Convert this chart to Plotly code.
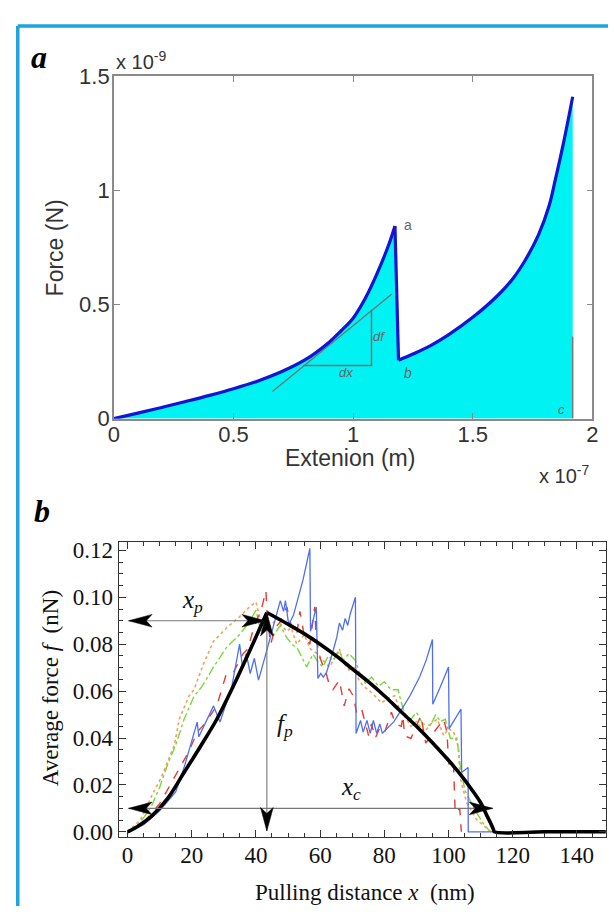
import plotly.graph_objects as go

W, H = 614, 919

# ---------------- Panel a data (extension in 1e-7 m, force in 1e-9 N) ----------------
a_ext_rise = [0, 0.1, 0.2, 0.3, 0.4, 0.5, 0.6, 0.7, 0.8, 0.9, 0.95, 1.0, 1.05, 1.1, 1.15, 1.175]
a_force_rise = [0, 0.024, 0.049, 0.075, 0.102, 0.131, 0.164, 0.205, 0.258, 0.335, 0.385, 0.44, 0.525, 0.635, 0.765, 0.844]
a_ext_second = [1.19, 1.25, 1.324, 1.4, 1.504, 1.6, 1.667, 1.72, 1.775, 1.82, 1.844, 1.88, 1.918]
a_force_second = [0.256, 0.283, 0.320, 0.368, 0.447, 0.535, 0.612, 0.695, 0.805, 0.935, 1.04, 1.21, 1.41]
a_cut_x = [1.918, 1.918]
a_cut_f = [0.0, 0.36]
tangent_x = [0.663, 1.161]
tangent_f = [0.119, 0.545]
tri_x = [0.792, 1.077, 1.077]
tri_f = [0.233, 0.233, 0.477]
a_xticks = [0, 0.5, 1, 1.5, 2]
a_yticks = [0, 0.5, 1, 1.5]

# ---------------- Panel b data (pulling distance nm, average force nN) ----------------
theory_x_rise = [0, 3, 7.4, 12.5, 17.6, 22.7, 27.8, 32.9, 38, 43.4]
theory_f_rise = [0, 0.0022, 0.0066, 0.0143, 0.0253, 0.0364, 0.048, 0.062, 0.077, 0.0935]
theory_x_fall = [43.4, 50, 55, 60, 65, 70, 75, 80, 85, 90, 95, 100, 104, 107, 110, 112, 113.3, 114, 114.3, 130, 150]
theory_f_fall = [0.0935, 0.0885, 0.0845, 0.0800, 0.0750, 0.0695, 0.0640, 0.0580, 0.0515, 0.0450, 0.0380,
                 0.0305, 0.0240, 0.0185, 0.0125, 0.0068, 0.0032, 0.0010, 0.0, 0.0, 0.0]

blue_x = [0, 5, 10, 15, 17.6, 21.7, 22.2, 26.8, 28.8, 32.5, 34.9, 35.8, 37.0, 38.2, 39.5, 40.8, 42.5,
          44.5, 46.5, 47.6, 48.6, 49.2, 50.2, 51.7, 54.7, 56.8, 57.0, 58.8, 59.3, 60.2, 61.0, 62.0,
          64.0, 65.2, 66.0, 67.0, 67.8, 68.6, 69.4, 71.0, 71.2, 72.6, 73.4, 74.6, 75.6, 76.6, 77.6,
          78.6, 79.4, 83.0, 85.3, 88.0, 91.0, 93.0, 95.0, 95.1, 97.5, 100.0, 100.2, 102.0, 103.9,
          104.1, 106.1, 106.15, 114.0]
blue_f = [0, 0.003, 0.009, 0.017, 0.0274, 0.0468, 0.0405, 0.0537, 0.0468, 0.062, 0.080, 0.0703, 0.076,
          0.0675, 0.074, 0.0647, 0.073, 0.083, 0.094, 0.0986, 0.094, 0.0986, 0.0883, 0.0924, 0.1076,
          0.1208, 0.0855, 0.0959, 0.0654, 0.0675, 0.066, 0.068, 0.077, 0.083, 0.089, 0.086, 0.091,
          0.088, 0.093, 0.100, 0.0419, 0.0475, 0.0425, 0.0475, 0.042, 0.0475, 0.042, 0.046, 0.042,
          0.047, 0.052, 0.058, 0.066, 0.073, 0.082, 0.0544, 0.062, 0.0703, 0.044, 0.048, 0.0523,
          0.0253, 0.0274, 0.0, 0.0]

red_x = [0, 5, 10, 15, 19, 21.7, 24, 27.8, 29.8, 30.8, 33, 35.9, 37.5, 39, 42, 43.1, 43.5, 44.6,
         46, 47.6, 49.6, 51, 52.7, 53.7, 55, 56.8, 58.3, 58.8, 60, 61.9, 63, 64, 66, 67.5, 69, 70.3,
         71.5, 73, 75.1, 76, 77.2, 78.5, 80, 82.2, 83.5, 85.3, 85.8, 86.3, 88.3, 91.4, 92.9, 95.5,
         98.5, 99.5, 100.1, 101.5, 102.1, 103.5, 104.0]
red_f = [0, 0.004, 0.012, 0.024, 0.034, 0.0426, 0.046, 0.0537, 0.0634, 0.0675, 0.068, 0.0758, 0.078,
         0.0855, 0.0966, 0.1028, 0.092, 0.080, 0.087, 0.0896, 0.096, 0.088, 0.084, 0.094, 0.084,
         0.080, 0.0959, 0.082, 0.074, 0.0675, 0.062, 0.0606, 0.0647, 0.0537, 0.061, 0.058, 0.050,
         0.052, 0.041, 0.046, 0.040, 0.044, 0.042, 0.051, 0.046, 0.045, 0.0495, 0.041, 0.0398,
         0.0495, 0.0378, 0.0426, 0.048, 0.0426, 0.0288, 0.031, 0.008, 0.010, 0.0]

green_x = [0, 4, 7.4, 10, 12.5, 15, 17.6, 20.7, 23.2, 26.8, 30.8, 34.9, 38, 40, 41.5, 43.5, 45.6,
           47.6, 49.5, 51.2, 53, 54.7, 55.8, 57.8, 59.5, 60.9, 62.5, 64, 66, 67, 69, 71, 72.5, 74.1,
           76, 78.2, 80, 81.2, 82.2, 84.3, 85.3, 86.5, 88.3, 90, 92, 94.4, 96, 97.5, 99, 100.6,
           102.6, 103.6, 105.1, 108.2, 110.7, 113]
green_f = [0, 0.004, 0.0108, 0.019, 0.0288, 0.037, 0.048, 0.0578, 0.062, 0.0703, 0.0786, 0.0841,
           0.0896, 0.0945, 0.0855, 0.088, 0.084, 0.088, 0.083, 0.080, 0.078, 0.073, 0.0703, 0.0758,
           0.072, 0.0703, 0.075, 0.073, 0.078, 0.073, 0.076, 0.073, 0.067, 0.0634, 0.066, 0.062,
           0.064, 0.062, 0.0606, 0.0606, 0.055, 0.050, 0.048, 0.051, 0.046, 0.0454, 0.050, 0.047,
           0.048, 0.0398, 0.040, 0.0288, 0.0177, 0.0094, 0.0039, 0.0]

orange_x = [0, 4, 7.4, 10.5, 14.6, 16.1, 19.1, 20.7, 23.7, 26.8, 30.8, 34.9, 38, 40, 41.5, 44, 46.6,
            48, 49.6, 51, 52.7, 55, 57, 59.3, 61, 62.9, 64.5, 66, 67.5, 69, 70.5, 72.1, 73.5, 75.1,
            77, 79.2, 81, 83.3, 84.8, 86.3, 88.3, 90, 92.4, 94.5, 96.5, 98.5, 100, 101.6, 103.1,
            103.6, 105.7, 108.7, 111.7, 113.2]
orange_f = [0, 0.005, 0.015, 0.0232, 0.037, 0.048, 0.0578, 0.0606, 0.0717, 0.0813, 0.0869, 0.0917,
            0.0959, 0.098, 0.0896, 0.087, 0.091, 0.088, 0.0855, 0.087, 0.080, 0.084, 0.078, 0.0758,
            0.073, 0.0703, 0.074, 0.0772, 0.072, 0.069, 0.070, 0.0647, 0.062, 0.0606, 0.058, 0.055,
            0.057, 0.058, 0.052, 0.0495, 0.045, 0.047, 0.0426, 0.046, 0.048, 0.041, 0.044, 0.0426,
            0.036, 0.0232, 0.0122, 0.0053, 0.0018, 0.0]

# annotation arrows (data coordinates)
xp_arrow_x = [0.3, 43.0]
xp_arrow_f = 0.09
fp_arrow_x = 43.4
fp_arrow_f = [0.0004, 0.0935]
xc_arrow_x = [0.3, 113.8]
xc_arrow_f = 0.01
b_xticks = [0, 20, 40, 60, 80, 100, 120, 140]

# ---------------- layout geometry (picture pixels) ----------------
A_X = [110, 598]
A_Y = [66, 418]
B_X = [115, 611.7]
B_Y = [545, 848.3]
xa_range = [0, 2]
ya_range = [0, 1.5]
xb_range = [-2.75, 149.0]
yb_range = [-0.0023, 0.1235]


def fx(px):
    return px / W


def fy(py):
    return 1 - py / H


SANS = "Liberation Sans, Arial, sans-serif"
SERIF = "Liberation Serif, Times New Roman, serif"

fig = go.Figure()

# ---- panel a ----
fig.add_trace(go.Scatter(x=a_ext_rise + a_ext_second + [a_ext_second[-1], 0],
                         y=a_force_rise + a_force_second + [0, 0],
                         fill="toself", fillcolor="#00F2F2", mode="lines",
                         line=dict(width=0, color="#00F2F2"), hoverinfo="skip"))
fig.add_trace(go.Scatter(x=a_cut_x, y=a_cut_f, mode="lines", line=dict(color="#7a7a7a", width=1.5)))
fig.add_trace(go.Scatter(x=tangent_x, y=tangent_f, mode="lines", line=dict(color="#707070", width=1.2)))
fig.add_trace(go.Scatter(x=tri_x, y=tri_f, mode="lines", line=dict(color="#707070", width=1.5)))
fig.add_trace(go.Scatter(x=a_ext_rise, y=a_force_rise, mode="lines", line_shape="spline",
                         line=dict(color="#1414D2", width=3.2)))
fig.add_trace(go.Scatter(x=[a_ext_rise[-1], a_ext_second[0]], y=[a_force_rise[-1], a_force_second[0]],
                         mode="lines", line=dict(color="#1414D2", width=3.2)))
fig.add_trace(go.Scatter(x=a_ext_second, y=a_force_second, mode="lines", line_shape="spline",
                         line=dict(color="#1414D2", width=3.2)))

# ---- panel b ----
bkw = dict(xaxis="x2", yaxis="y2", mode="lines", hoverinfo="skip")
fig.add_trace(go.Scatter(x=orange_x, y=orange_f, line=dict(color="#F0A060", width=1.6, dash="dot"), **bkw))
fig.add_trace(go.Scatter(x=green_x, y=green_f, line=dict(color="#7CD83A", width=1.4, dash="dashdot"), **bkw))
fig.add_trace(go.Scatter(x=red_x, y=red_f, line=dict(color="#E83A30", width=1.4, dash="dash"), **bkw))
fig.add_trace(go.Scatter(x=blue_x, y=blue_f, line=dict(color="#4F6FF0", width=1.3), **bkw))
fig.add_trace(go.Scatter(x=theory_x_rise, y=theory_f_rise, line=dict(color="black", width=3.6),
                         line_shape="spline", **bkw))
fig.add_trace(go.Scatter(x=theory_x_fall, y=theory_f_fall, line=dict(color="black", width=3.6),
                         line_shape="spline", **bkw))

# arrow shafts
fig.add_trace(go.Scatter(x=xp_arrow_x, y=[xp_arrow_f] * 2, line=dict(color="#777", width=1.1), **bkw))
fig.add_trace(go.Scatter(x=[fp_arrow_x] * 2, y=fp_arrow_f, line=dict(color="#777", width=1.1), **bkw))
fig.add_trace(go.Scatter(x=xc_arrow_x, y=[xc_arrow_f] * 2, line=dict(color="#777", width=1.1), **bkw))

sx = (B_X[1] - B_X[0]) / (xb_range[1] - xb_range[0])
sy = (B_Y[1] - B_Y[0]) / (yb_range[1] - yb_range[0])


def head(tx, ty, dx, dy, L=24.0, Wd=6.5, N=6.0):
    nx, ny = -dy, dx
    pts = [(0, 0), (-L * dx + Wd * nx, -L * dy + Wd * ny), (-(L - N) * dx, -(L - N) * dy),
           (-L * dx - Wd * nx, -L * dy - Wd * ny), (0, 0)]
    return [tx + p[0] / sx for p in pts], [ty + p[1] / sy for p in pts]


heads = [
    (xp_arrow_x[0], xp_arrow_f, -1, 0),
    (xp_arrow_x[1], xp_arrow_f, 1, 0),
    (fp_arrow_x, fp_arrow_f[0], 0, -1),
    (fp_arrow_x, fp_arrow_f[1], 0, 1),
    (xc_arrow_x[0], xc_arrow_f, -1, 0),
    (xc_arrow_x[1], xc_arrow_f, 1, 0),
]
for tx, ty, dx, dy in heads:
    hx, hy = head(tx, ty, dx, dy)
    fig.add_trace(go.Scatter(x=hx, y=hy, fill="toself", fillcolor="black",
                             line=dict(color="black", width=0.5), **bkw))

# ---------------- axes ----------------
a_axis = dict(showline=True, linecolor="#8a8a8a", linewidth=1.5, mirror="ticks", ticks="inside",
              ticklen=6, tickwidth=1.2, tickcolor="#8a8a8a", showgrid=False, zeroline=False,
              tickfont=dict(family=SANS, size=22, color="#333333"))
b_axis = dict(showline=True, linecolor="#333333", linewidth=1.4, mirror="ticks", ticks="inside",
              ticklen=7, tickwidth=1.1, tickcolor="#333333", showgrid=False, zeroline=False,
              tickfont=dict(family=SERIF, size=23, color="#111111"))

fig.update_layout(
    width=W, height=H, autosize=False, margin=dict(l=0, r=0, t=0, b=0),
    paper_bgcolor="white", plot_bgcolor="white", showlegend=False,
    xaxis=dict(domain=[fx(A_X[0]), fx(A_X[1])], range=xa_range, anchor="y", tickvals=a_xticks,
               ticktext=[str(v) for v in a_xticks], ticklabelstandoff=-5, **a_axis),
    yaxis=dict(domain=[fy(A_Y[1]), fy(A_Y[0])], range=ya_range, anchor="x", tickvals=a_yticks,
               ticktext=[str(v) for v in a_yticks], ticklabelstandoff=-2, **a_axis),
    xaxis2=dict(domain=[fx(B_X[0]), fx(B_X[1])], range=xb_range, anchor="y2", tickvals=b_xticks,
                ticklabelstandoff=-3,
                minor=dict(ticks="inside", ticklen=4, dtick=5, tick0=0, tickcolor="#333333"), **b_axis),
    yaxis2=dict(domain=[fy(B_Y[1]), fy(B_Y[0])], range=yb_range, anchor="x2", tick0=0, dtick=0.02,
                tickformat=".2f",
                minor=dict(ticks="inside", ticklen=4, dtick=0.005, tick0=0, tickcolor="#333333"), **b_axis),
)

# ---------------- frame ----------------
fig.add_shape(type="line", xref="paper", yref="paper", x0=fx(12), x1=fx(12), y0=0, y1=fy(14.5),
              line=dict(color="#1CA3E0", width=3.5))
fig.add_shape(type="line", xref="paper", yref="paper", x0=fx(12), x1=1.0, y0=fy(14.5), y1=fy(14.5),
              line=dict(color="#1CA3E0", width=3.5))


# ---------------- text ----------------
def ptext(txt, x, y, size, family, color="#333333", angle=0, xanchor="center", yanchor="middle"):
    fig.add_annotation(text=txt, xref="paper", yref="paper", x=fx(x), y=fy(y), showarrow=False,
                       textangle=angle, xanchor=xanchor, yanchor=yanchor,
                       font=dict(size=size, family=family, color=color))


ptext("<b><i>a</i></b>", 34, 46, 32, SERIF, "black")
ptext("<b><i>b</i></b>", 37, 513, 32, SERIF, "black")
ptext("x 10<sup>-9</sup>", 110, 50, 20, SANS, xanchor="left")
ptext("Force (N)", 50, 243, 23, SANS, angle=-90)
ptext("Extenion (m)", 351, 458, 23, SANS)
ptext("x 10<sup>-7</sup>", 597, 475, 20, SANS, xanchor="right")
ptext("Average force <i>f</i>\u00a0 (nN)", 45, 695, 23, SERIF, "#111111", angle=-90)
ptext("Pulling distance <i>x</i>\u00a0 (nm)", 366, 905, 23, SERIF, "#111111")


def dtext(txt, x, y, size, family, color, xref="x", yref="y"):
    fig.add_annotation(text=txt, xref=xref, yref=yref, x=x, y=y, showarrow=False,
                       font=dict(size=size, family=family, color=color))


dtext("a", 1.23, 0.85, 14, SANS, "#666666")
dtext("<i>b</i>", 1.23, 0.20, 14, SANS, "#666666")
dtext("<i>c</i>", 1.87, 0.04, 13, SANS, "#666666")
dtext("<i>dx</i>", 0.97, 0.20, 13, SANS, "#666666")
dtext("<i>df</i>", 1.11, 0.36, 13, SANS, "#666666")
dtext("<i>x</i><sub><i>p</i></sub>", 20.2, 0.098, 25, SERIF, "#111111", "x2", "y2")
dtext("<i>f</i><sub><i>p</i></sub>", 49.2, 0.0454, 25, SERIF, "#111111", "x2", "y2")
dtext("<i>x</i><sub><i>c</i></sub>", 69.5, 0.0184, 25, SERIF, "#111111", "x2", "y2")

fig.write_html("out.html", config={"displayModeBar": False},
               post_script="document.body.style.margin='0px';document.body.style.overflow='hidden';")
